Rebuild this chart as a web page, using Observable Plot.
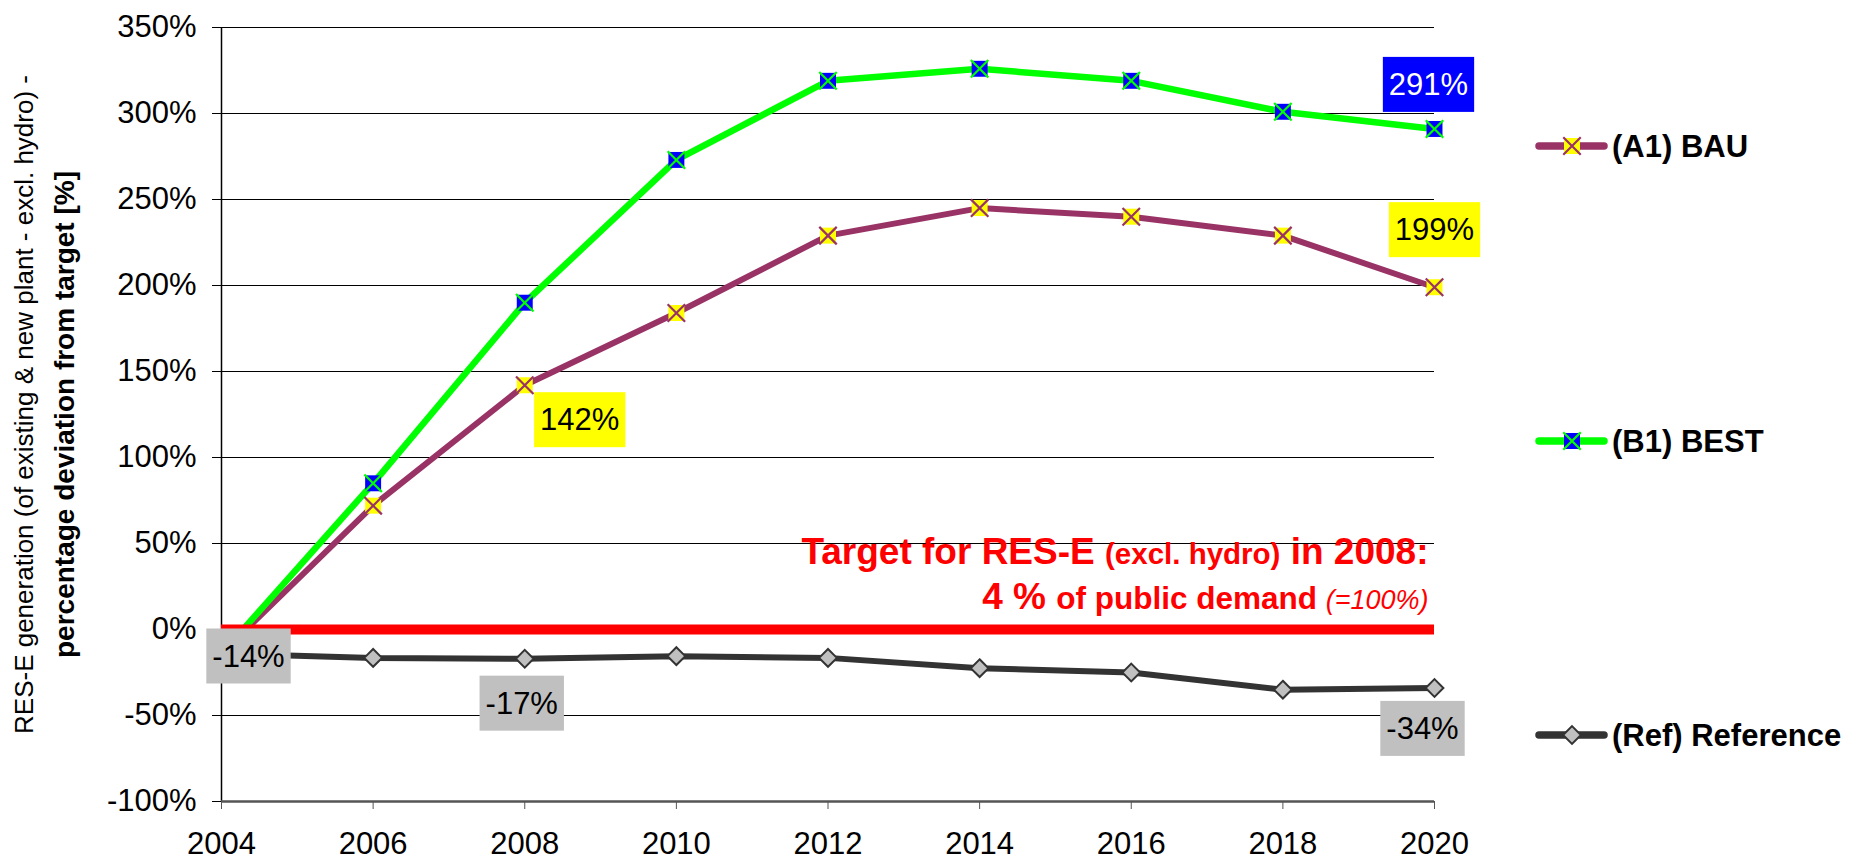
<!DOCTYPE html>
<html><head><meta charset="utf-8">
<script src="https://cdn.jsdelivr.net/npm/d3@7"></script>
<script src="https://cdn.jsdelivr.net/npm/@observablehq/plot@0.6"></script>
<style>
html,body{margin:0;padding:0;background:#fff;overflow:hidden}
#wrap{position:relative;width:1850px;height:859px}
#legend{position:absolute;left:1530px;top:0;width:320px;height:859px}
</style></head><body><div id="wrap"></div>
<script>
const FONT = '"Liberation Sans", Arial, Helvetica, sans-serif';

// ---------- data ----------
const years = [2004, 2006, 2008, 2010, 2012, 2014, 2016, 2018, 2020];
const bauValues  = [-14, 72, 142, 184, 229, 245, 240, 229, 199];
const bestValues = [-14, 85, 190, 273, 319, 326, 319, 301, 291];
const refValues  = [-14, -16.5, -17, -15.5, -16.5, -22.5, -25, -35, -34];
const seriesNames = ["(A1) BAU", "(B1) BEST", "(Ref) Reference"];
const yTicks = [-100, -50, 0, 50, 100, 150, 200, 250, 300, 350];
const targetValue = [0];
const labelSeries = ["(Ref) Reference", "(Ref) Reference", "(Ref) Reference", "(B1) BEST", "(A1) BAU", "(A1) BAU"];
const labelYears  = [2004, 2008, 2020, 2020, 2020, 2008];
const labelTexts  = ["-14%", "-17%", "-34%", "291%", "199%", "142%"];
const axisTitleLines = ["RES-E generation (of existing & new plant - excl. hydro) -", "percentage deviation from target [%]"];
const targetNote = [["Target for RES-E ", "(excl. hydro)", " in 2008:"], ["4 % ", "of public demand ", "(=100%)"]];

// ---------- styles ----------
const colors = {"(A1) BAU": "#993366", "(B1) BEST": "#00FF00", "(Ref) Reference": "#333333"};
const labelStyle = [
  {dx: 27, dy: 3, box: "#C0C0C0", ink: "#000"},
  {dx: -3, dy: 45, box: "#C0C0C0", ink: "#000"},
  {dx: -12, dy: 41, box: "#C0C0C0", ink: "#000"},
  {dx: -6, dy: -44, box: "#0000FF", ink: "#FFF"},
  {dx: 0, dy: -57, box: "#FFFF00", ink: "#000"},
  {dx: 55, dy: 35, box: "#FFFF00", ink: "#000"}
];

const rows = (vals, name) => years.map((year, i) => ({year, value: vals[i], series: name}));
const bau = rows(bauValues, seriesNames[0]);
const best = rows(bestValues, seriesNames[1]);
const ref = rows(refValues, seriesNames[2]);
const all = [...bau, ...best, ...ref];
const labels = labelTexts.map((text, i) => {
  const p = all.find(d => d.series === labelSeries[i] && d.year === labelYears[i]);
  return {year: p.year, value: p.value, text, i};
});
const xEnd = years[years.length - 1];

const labelMarks = labels.map((l, i) => Plot.text([l], {
  x: "year", y: "value", text: "text",
  dx: labelStyle[i].dx, dy: labelStyle[i].dy,
  fill: labelStyle[i].ink, fontSize: 31, textAnchor: "middle",
  ariaDescription: "label-" + i
}));

const chart = Plot.plot({
  width: 1850, height: 859,
  marginLeft: 221, marginRight: 416, marginTop: 27, marginBottom: 58,
  x: {domain: [years[0], xEnd]},
  y: {domain: [yTicks[0], yTicks[yTicks.length - 1]]},
  style: {fontFamily: FONT, fontSize: "31px", color: "#000", background: "#fff", overflow: "visible"},
  marks: [
    Plot.ruleY(yTicks, {stroke: "#000", strokeWidth: 1}),
    Plot.axisY({ticks: yTicks, tickFormat: d => `${d}%`, tickSize: 9, tickPadding: 16, fontSize: 31, label: null, stroke: "#000"}),
    Plot.axisX({ticks: years, tickFormat: d => `${d}`, tickSize: 8, tickPadding: 22, fontSize: 31, label: null, stroke: "#555"}),
    Plot.ruleX([years[0]], {stroke: "#000", strokeWidth: 1.5}),
    Plot.ruleY([yTicks[0]], {stroke: "#555", strokeWidth: 2.5}),
    Plot.line(ref, {x: "year", y: "value", stroke: colors[seriesNames[2]], strokeWidth: 6, strokeLinejoin: "round"}),
    Plot.line(bau, {x: "year", y: "value", stroke: colors[seriesNames[0]], strokeWidth: 6, strokeLinejoin: "round"}),
    Plot.line(best, {x: "year", y: "value", stroke: colors[seriesNames[1]], strokeWidth: 6.5, strokeLinejoin: "round"}),
    Plot.ruleY(targetValue, {stroke: "#FF0000", strokeWidth: 10}),
    Plot.dot(ref, {x: "year", y: "value", symbol: "diamond2", r: 8, fill: "#C0C0C0", stroke: "#333333", strokeWidth: 2}),
    Plot.dot(bau, {x: "year", y: "value", symbol: "square", r: 9, fill: "#FFFF00"}),
    Plot.dot(bau, {x: "year", y: "value", symbol: "times", r: 8, stroke: colors[seriesNames[0]], strokeWidth: 2.2}),
    Plot.dot(best, {x: "year", y: "value", symbol: "square", r: 9, fill: "#0000FF"}),
    Plot.dot(best, {x: "year", y: "value", symbol: "times", r: 8, stroke: colors[seriesNames[1]], strokeWidth: 2.2}),
    Plot.text(targetValue, {x: () => xEnd, y: d => d, text: () => targetNote.map(l => l.join("")).join(" "),
      textAnchor: "end", dx: -6, fill: "#FF0000", fontWeight: "bold", fontSize: 37, ariaDescription: "target-note"}),
    ...labelMarks,
    Plot.text([axisTitleLines[0]], {text: d => d, frameAnchor: "left", rotate: -90, dx: -197, dy: -10,
      fontSize: 26, fill: "#000", textAnchor: "middle"}),
    Plot.text([axisTitleLines[1]], {text: d => d, frameAnchor: "left", rotate: -90, dx: -156, dy: 0,
      fontSize: 28, fontWeight: "bold", fill: "#000", textAnchor: "middle"})
  ]
});
document.getElementById("wrap").appendChild(chart);

// label boxes behind label texts
const NS = "http://www.w3.org/2000/svg";
d3.select(chart).selectAll('g[aria-description^="label-"]').each(function() {
  const i = +this.getAttribute("aria-description").split("-")[1];
  d3.select(this).selectAll("text").each(function() {
    const bb = this.getBBox();
    const r = document.createElementNS(NS, "rect");
    const padX = 6, padY = 10;
    r.setAttribute("x", bb.x - padX);
    r.setAttribute("y", bb.y - padY);
    r.setAttribute("width", bb.width + 2 * padX);
    r.setAttribute("height", bb.height + 2 * padY);
    r.setAttribute("fill", labelStyle[i].box);
    r.setAttribute("stroke", "none");
    if (this.getAttribute("transform")) r.setAttribute("transform", this.getAttribute("transform"));
    this.parentNode.insertBefore(r, this);
  });
});

// styled runs for the target note
const runStyles = [
  [{size: 37, weight: "bold"}, {size: 29.5, weight: "bold"}, {size: 37, weight: "bold"}],
  [{size: 37, weight: "bold"}, {size: 31.5, weight: "bold"}, {size: 27, weight: "normal", style: "italic"}]
];
const lineY = [-66, -21];
const note = chart.querySelector('g[aria-description="target-note"] text');
if (note) {
  note.removeAttribute("dy");
  while (note.firstChild) note.removeChild(note.firstChild);
  note.setAttribute("style", "white-space:pre");
  targetNote.forEach((line, li) => {
    const lt = document.createElementNS(NS, "tspan");
    lt.setAttribute("x", 0);
    lt.setAttribute("y", lineY[li]);
    line.forEach((run, ri) => {
      const t = document.createElementNS(NS, "tspan");
      const s = runStyles[li][ri];
      t.textContent = run;
      t.setAttribute("font-size", s.size);
      t.setAttribute("font-weight", s.weight);
      if (s.style) t.setAttribute("font-style", s.style);
      lt.appendChild(t);
    });
    note.appendChild(lt);
  });
}

// legend (HTML overlay to the right of the plot)
const legendY = [146, 441, 735];
const legend = d3.select("#wrap").append("svg").attr("id", "legend").attr("width", 320).attr("height", 859);
const sym = (type, r) => d3.symbol(type, r * r * Math.PI)();
seriesNames.forEach((name, i) => {
  const g = legend.append("g").attr("transform", `translate(0,${legendY[i]})`);
  g.append("line").attr("x1", 9).attr("x2", 74).attr("y1", 0).attr("y2", 0)
    .attr("stroke", colors[name]).attr("stroke-width", 7.5).attr("stroke-linecap", "round");
  const m = g.append("g").attr("transform", "translate(42,0)");
  if (i === 2) {
    m.append("path").attr("d", sym(d3.symbolDiamond2, 8)).attr("fill", "#C0C0C0").attr("stroke", "#333333").attr("stroke-width", 2);
  } else {
    m.append("path").attr("d", sym(d3.symbolSquare, 9)).attr("fill", i === 0 ? "#FFFF00" : "#0000FF");
    m.append("path").attr("d", sym(d3.symbolTimes, 8)).attr("fill", "none").attr("stroke", colors[name]).attr("stroke-width", 2.2);
  }
  g.append("text").attr("x", 82).attr("y", 11).text(name)
    .attr("font-family", FONT).attr("font-size", 31).attr("font-weight", "bold").attr("fill", "#000");
});
</script></body></html>
